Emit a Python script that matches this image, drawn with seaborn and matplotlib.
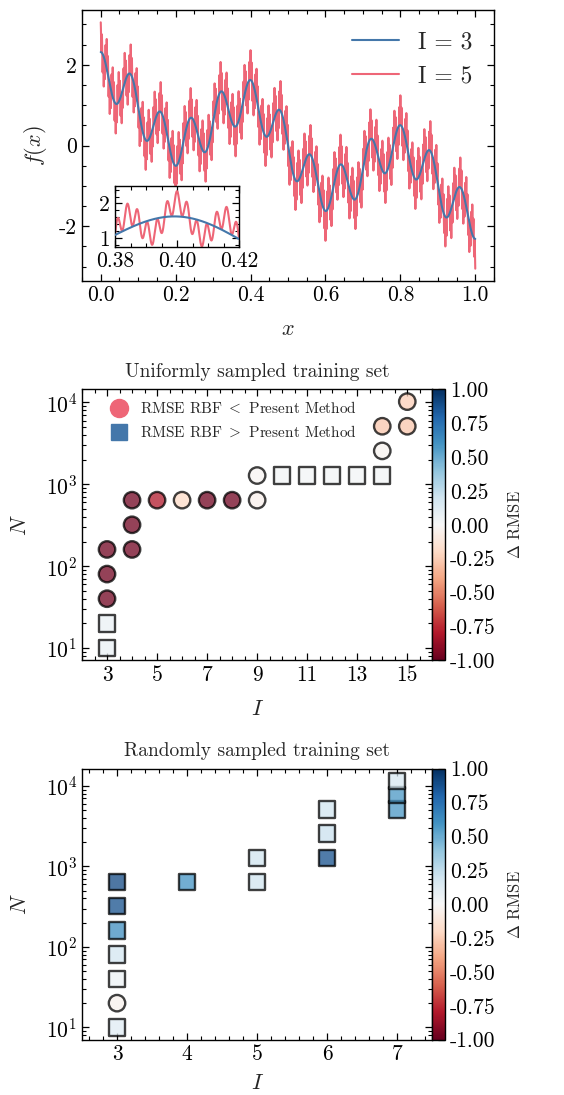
import numpy as np
import pandas as pd
import matplotlib
matplotlib.use("Agg")
import matplotlib.pyplot as plt
import seaborn as sns
from matplotlib.lines import Line2D
from matplotlib.ticker import FormatStrFormatter, AutoMinorLocator
from matplotlib.colors import Normalize
from matplotlib.cm import ScalarMappable

# ---------------- data ----------------
# Weierstrass-type series terms: amplitude * cos(freq * pi * x)
wf_amplitudes = [1.0, 0.75, 0.5625, 0.421875, 0.31640625]
wf_frequencies = [1, 5, 25, 125, 625]
curve_labels = ["I = 3", "I = 5"]
curve_terms = [3, 5]
curve_colors = ["#4477AA", "#EE6677"]

uni_I = [3, 3, 3, 3, 3, 4, 4, 4, 5, 6, 7, 8, 9, 9, 10, 11, 12, 13, 14, 14, 14, 15, 15]
uni_N = [10, 20, 40, 80, 160, 160, 320, 640, 640, 640, 640, 640, 640, 1280,
         1280, 1280, 1280, 1280, 1280, 2560, 5120, 5120, 10240]
uni_dRMSE = [0.07, 0.07, -0.97, -0.97, -0.97, -0.97, -0.97, -0.97, -0.8, -0.2,
             -0.97, -0.97, -0.05, -0.02, 0.03, 0.03, 0.03, 0.03, 0.03,
             -0.03, -0.28, -0.28, -0.25]

rnd_I = [3, 3, 3, 3, 3, 3, 3, 4, 5, 5, 6, 6, 6, 7, 7, 7]
rnd_N = [10, 20, 40, 80, 160, 320, 640, 640, 640, 1280, 1280, 2560, 5120, 5120, 7680, 11520]
rnd_dRMSE = [0.12, -0.04, 0.05, 0.18, 0.62, 0.88, 0.9, 0.6, 0.2, 0.2,
             0.88, 0.22, 0.2, 0.58, 0.58, 0.17]

cbar_ticks = [-1.0, -0.75, -0.5, -0.25, 0.0, 0.25, 0.5, 0.75, 1.0]
legend_labels = [r"RMSE RBF $<$ Present Method", r"RMSE RBF $>$ Present Method"]
legend_colors = ["#EE6677", "#4477AA"]

# ---------------- style ----------------
sns.set_style("ticks")
plt.rcParams.update({
    "font.family": ["cmr10", "DejaVu Serif"],
    "mathtext.fontset": "cm",
    "axes.unicode_minus": False,
    "axes.linewidth": 1.0,
    "xtick.direction": "in", "ytick.direction": "in",
    "xtick.top": True, "ytick.right": True,
    "xtick.minor.visible": True, "ytick.minor.visible": True,
    "xtick.major.size": 5, "ytick.major.size": 5,
    "xtick.minor.size": 3, "ytick.minor.size": 3,
    "xtick.major.width": 0.9, "ytick.major.width": 0.9,
    "xtick.minor.width": 0.8, "ytick.minor.width": 0.8,
    "xtick.color": "black", "ytick.color": "black",
    "axes.edgecolor": "black",
    "xtick.labelsize": 15.5, "ytick.labelsize": 15.5,
    "axes.labelsize": 16,
})

fig = plt.figure(figsize=(5.64, 10.95), dpi=100)
W, H = 564.0, 1095.0


def box(l, t, r, b):
    return [l / W, 1 - b / H, (r - l) / W, (b - t) / H]


def series(x, n):
    y = np.zeros_like(x)
    for a, f in zip(wf_amplitudes[:n], wf_frequencies[:n]):
        y = y + a * np.cos(f * np.pi * x)
    return y


# ---------------- top panel ----------------
ax1 = fig.add_axes(box(82, 10, 494, 281))
x = np.linspace(0, 1, 20001)
for lab, n, col, z in zip(curve_labels[::-1], curve_terms[::-1], curve_colors[::-1], [2, 3]):
    sns.lineplot(x=x, y=series(x, n), ax=ax1, color=col, linewidth=1.5, zorder=z)
ax1.set_xticks([0.0, 0.2, 0.4, 0.6, 0.8, 1.0])
ax1.xaxis.set_major_formatter(FormatStrFormatter("%.1f"))
ax1.set_yticks([-2, 0, 2])
ax1.set_xlabel(r"$x$", labelpad=10)
ax1.set_ylabel(r"$f(x)$", labelpad=7)
handles = [Line2D([], [], color=c, lw=1.5) for c in curve_colors]
ax1.legend(handles, curve_labels, loc="upper right", frameon=False, fontsize=17)

axin = fig.add_axes(box(115, 186, 239, 247))
xi = np.linspace(0.38, 0.42, 4001)
for lab, n, col, z in zip(curve_labels[::-1], curve_terms[::-1], curve_colors[::-1], [2, 3]):
    sns.lineplot(x=xi, y=series(xi, n), ax=axin, color=col, linewidth=1.5, zorder=z)
axin.set_xlim(0.38, 0.42)
axin.set_ylim(0.73, 2.51)
axin.set_xticks([0.38, 0.40, 0.42])
axin.xaxis.set_major_formatter(FormatStrFormatter("%.2f"))
axin.set_yticks([1, 2])
axin.set_xlabel("")
axin.set_ylabel("")

# ---------------- scatter panels ----------------
norm = Normalize(-1, 1)


def scatter_panel(top, bottom, I, N, d, title, xticks, xlim, xpad):
    ax = fig.add_axes(box(82, top, 432.3, bottom))
    df = pd.DataFrame({"I": I, "N": N, "d": d})
    df["kind"] = np.where(df["d"] < 0, "lt", "gt")
    sns.scatterplot(data=df, x="I", y="N", hue="d", palette="RdBu", hue_norm=(-1, 1),
                    style="kind", markers={"lt": "o", "gt": "s"}, s=140,
                    edgecolor="black", linewidth=1.7, alpha=0.75, legend=False, ax=ax)
    ax.set_yscale("log")
    ax.set_xlim(*xlim)
    ax.set_xticks(xticks)
    ax.xaxis.set_minor_locator(AutoMinorLocator())
    ax.set_xlabel(r"$I$", labelpad=xpad)
    ax.set_ylabel(r"$N$", labelpad=11)
    ax.set_title(title, fontsize=14, pad=9)
    cax = fig.add_axes(box(432.3, top, 445.3, bottom))
    cb = fig.colorbar(ScalarMappable(norm=norm, cmap="RdBu"), cax=cax)
    cb.set_ticks(cbar_ticks)
    cb.ax.yaxis.set_major_formatter(FormatStrFormatter("%.2f"))
    cb.minorticks_on()
    cb.ax.tick_params(which="both", direction="in", labelsize=15.5)
    cb.outline.set_linewidth(1.0)
    cb.set_label(r"$\Delta$ RMSE", fontsize=12, labelpad=8)
    return ax


ax2 = scatter_panel(389.3, 660.3, uni_I, uni_N, uni_dRMSE,
                    "Uniformly sampled training set", list(range(3, 16, 2)), (2, 16), 11)
lh = [Line2D([], [], marker="o", color=legend_colors[0], ls="", markersize=13),
      Line2D([], [], marker="s", color=legend_colors[1], ls="", markersize=12)]
ax2.legend(lh, legend_labels, loc="upper left", bbox_to_anchor=(0.062, 0.982),
           borderaxespad=0, handlelength=1.2, handletextpad=0.8, labelspacing=0.55,
           frameon=False, fontsize=11)

ax3 = scatter_panel(768.7, 1039.7, rnd_I, rnd_N, rnd_dRMSE,
                    "Randomly sampled training set", [3, 4, 5, 6, 7], (2.5, 7.5), 7)

fig.savefig("out.png", dpi=100)
